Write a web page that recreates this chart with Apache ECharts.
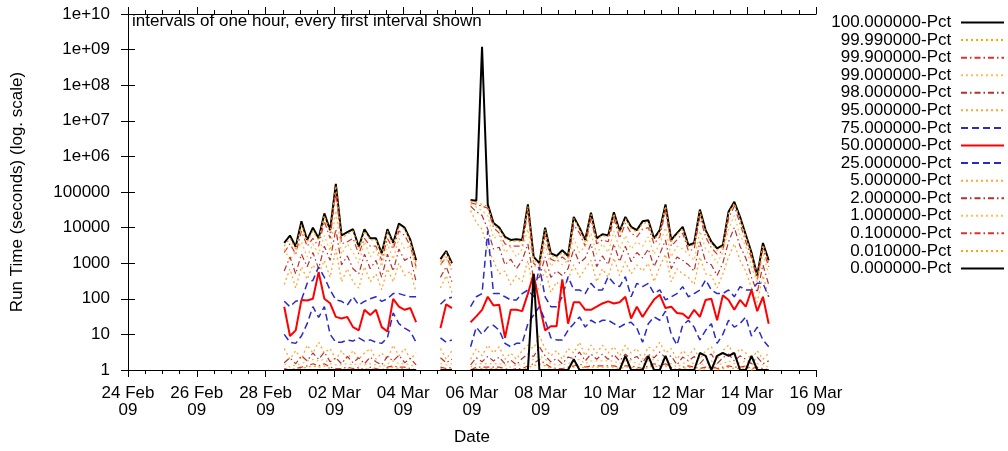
<!DOCTYPE html>
<html>
<head>
<meta charset="utf-8">
<script src="https://cdn.jsdelivr.net/npm/echarts@6/dist/echarts.min.js"></script>
<style>
html, body { margin: 0; padding: 0; background: #fff; }
#main { width: 1008px; height: 451px; }
</style>
</head>
<body>
<div id="main"></div>
<script>
// x = hours since 24 Feb 2009 00:00, one sample every 4 hours, three runs with gaps between
var step = 4;
var segStart = [109, 218, 239];
var segCount = [24, 3, 53];

var xTickLabels = ['24 Feb\n09', '26 Feb\n09', '28 Feb\n09', '02 Mar\n09', '04 Mar\n09', '06 Mar\n09',
  '08 Mar\n09', '10 Mar\n09', '12 Mar\n09', '14 Mar\n09', '16 Mar\n09'];
var yTickLabels = ['1', '10', '100', '1000', '10000', '100000', '1e+06', '1e+07', '1e+08', '1e+09', '1e+10'];

// run time per percentile (seconds); 24 + 3 + 53 values
var p100 = [3700, 6000, 2900, 15000, 4500, 10000, 5000, 25000, 8500, 170000, 6000, 7500, 9000, 2900, 9000, 5000, 5000, 1900, 9000, 3700, 13000, 10000, 4500, 1200,
  1300, 2200, 1000,
  60000, 57000, 1.2e9, 45000, 13500, 10000, 5500, 4500, 4700, 4500, 45000, 1500, 1000, 10000, 1900, 1600, 2300, 1600, 20000, 10000, 4500, 26000, 5000, 6500, 6000, 27000, 8000, 20000,
  10500, 8500, 15000, 16000, 5000, 8500, 45000, 4500, 7000, 10500, 3200, 3700, 32000, 8500, 4000, 2600, 3200, 28000, 53000, 20000, 6300, 2000, 450, 3700, 1200];
var p9999 = [3000, 5000, 2500, 12000, 4000, 8000, 4500, 22000, 7000, 150000, 5000, 6500, 8000, 2500, 8000, 4500, 4500, 1700, 8000, 3200, 11000, 9000, 4000, 1000,
  1100, 2000, 900,
  55000, 50000, 45000, 40000, 12000, 9000, 5000, 4000, 4200, 4000, 40000, 1300, 900, 9000, 1700, 1400, 2000, 1400, 18000, 9000, 4000, 24000, 4500, 6000, 5500, 25000, 7000, 18000,
  9500, 7500, 13000, 14000, 4500, 7500, 40000, 4000, 6300, 9500, 2900, 3300, 29000, 7500, 3600, 2300, 2900, 25000, 48000, 18000, 5600, 1800, 400, 3300, 1000];
var p999 = [2000, 3500, 1800, 8000, 3000, 5000, 3000, 15000, 5000, 100000, 3500, 4000, 5000, 1800, 5000, 3000, 3000, 1200, 5000, 2500, 8000, 6000, 3000, 800,
  900, 1500, 700,
  50000, 45000, 40000, 35000, 10000, 7000, 3500, 3000, 3000, 3000, 30000, 1000, 700, 6000, 1300, 1100, 1500, 1100, 12000, 7000, 3000, 18000, 3500, 4500, 4000, 18000, 5000, 13000,
  7000, 5500, 9000, 10000, 3500, 5500, 30000, 3000, 4500, 7000, 2200, 2500, 20000, 5500, 2700, 1800, 2200, 18000, 40000, 13000, 4000, 1400, 350, 2500, 800];
var p99 = [2500, 1200, 2200, 4000, 1500, 3500, 1800, 6000, 2200, 30000, 1800, 3500, 2000, 1000, 4000, 1500, 2500, 800, 3500, 1300, 5000, 2500, 3000, 700,
  900, 1400, 600,
  45000, 38000, 30000, 22000, 5000, 6000, 2000, 2800, 1500, 2500, 9000, 900, 600, 3500, 800, 1300, 900, 1200, 5000, 2000, 3000, 7000, 1800, 3500, 2000, 8000, 2500, 6000,
  2500, 4000, 3000, 5500, 1800, 3500, 10000, 1500, 3000, 2500, 1800, 1200, 8000, 2500, 1800, 1000, 2000, 9000, 22000, 6000, 3000, 800, 300, 1800, 500];
var p98 = [600, 1500, 500, 1800, 800, 2000, 700, 3000, 1200, 9000, 900, 1600, 700, 500, 1800, 700, 1200, 400, 1800, 600, 2500, 1200, 1500, 300,
  400, 800, 300,
  40000, 28000, 22000, 9000, 2500, 2800, 900, 1300, 700, 1200, 3500, 350, 400, 1500, 400, 600, 450, 700, 2500, 1000, 1400, 3500, 800, 1600, 900, 3500, 1100, 3000,
  1100, 2000, 1400, 2500, 800, 1800, 4500, 700, 1500, 1200, 900, 600, 4000, 1100, 900, 450, 1000, 4000, 10000, 3000, 1400, 400, 150, 900, 250];
var p95 = [250, 700, 200, 800, 350, 900, 500, 1200, 400, 2500, 300, 700, 300, 200, 800, 300, 500, 180, 700, 300, 1000, 450, 600, 150,
  200, 450, 150,
  30000, 14000, 9000, 2500, 1200, 500, 600, 250, 450, 300, 1200, 150, 200, 700, 150, 300, 180, 350, 900, 400, 700, 1200, 300, 700, 400, 1400, 450, 1100,
  500, 900, 600, 1000, 300, 800, 1800, 300, 700, 500, 400, 250, 1500, 500, 450, 200, 500, 1500, 3500, 1200, 600, 200, 80, 450, 120];
var p75 = [85, 60, 85, 93, 272, 330, 780, 400, 177, 93, 85, 67, 114, 67, 85, 100, 114, 85, 100, 140, 140, 125, 114, 114,
  70, 100, 110,
  60, 114, 140, 8000, 140, 140, 114, 93, 93, 140, 177, 114, 800, 114, 60, 60, 114, 420, 177, 177, 140, 272, 177, 177, 420, 272, 220, 420,
  114, 272, 220, 272, 140, 177, 93, 114, 140, 220, 114, 140, 177, 340, 177, 140, 140, 177, 114, 220, 177, 177, 272, 272, 114];
var p50 = [60, 9, 13, 93, 90, 100, 560, 100, 75, 31, 28, 31, 16, 13, 49, 35, 49, 16, 12, 100, 60, 49, 55, 22,
  15, 70, 55,
  22, 32, 49, 114, 65, 68, 8, 49, 49, 45, 140, 500, 70, 13, 17, 17, 350, 20, 80, 80, 49, 49, 60, 74, 85, 74, 80, 114,
  28, 60, 31, 55, 95, 130, 55, 60, 40, 38, 28, 49, 31, 93, 100, 25, 125, 93, 49, 93, 60, 177, 45, 114, 20];
var p25 = [10, 6, 5.6, 9, 20, 60, 30, 60, 10, 6, 6, 7, 6.5, 8, 6.5, 7, 6, 5.6, 8, 40, 20, 15, 12, 6,
  8, 6, 7,
  4.5, 16, 10, 16, 18, 13, 5.6, 4.5, 5.6, 5.6, 20, 35, 60, 25, 8, 7, 7, 13, 20, 31, 16, 25, 20, 25, 25, 20, 16, 20,
  22, 15, 6, 20, 31, 25, 45, 10, 5, 18, 25, 16, 7, 13, 20, 5.6, 10, 25, 16, 20, 31, 9, 16, 7, 4.5];
var p5 = [4, 2, 3.5, 2, 5, 3, 6, 3, 4, 2, 3.5, 2, 3.5, 2, 3, 4, 2, 3, 2, 5, 2.5, 4, 2, 3,
  4, 2, 3.5,
  2, 4, 2.5, 5, 3, 4.5, 2, 3, 2, 3.5, 5, 4, 9, 4, 2.5, 3.5, 2, 4, 3, 6, 2.5, 5, 3, 5, 3, 4.5, 2.5, 5,
  3, 4, 2, 4.5, 3.5, 6, 3, 4, 2, 3.5, 2.5, 4, 2, 3.5, 4.5, 2, 3.5, 5, 2.5, 4, 3, 2, 3.5, 2, 3];
var p2 = [1.6, 2.2, 1.5, 2.5, 1.8, 3, 2, 3.2, 1.7, 2.2, 1.5, 2.4, 1.6, 2.2, 1.5, 2.3, 1.7, 1.4, 2.4, 1.8, 2.6, 1.6, 2.1, 1.4,
  2.2, 1.6, 2,
  1.4, 2.2, 1.7, 2.4, 1.8, 2.3, 1.5, 1.9, 1.4, 2.1, 2.8, 2.4, 4.5, 2.5, 1.7, 2.1, 1.5, 2.3, 2.1, 3.2, 1.8, 2.8, 2, 2.8, 2, 2.7, 1.8, 2.8,
  2, 2.4, 1.6, 2.8, 2.2, 3.2, 2.2, 2.5, 1.4, 2.3, 1.8, 2.4, 1.5, 2.3, 2.8, 1.5, 2.2, 2.8, 1.8, 2.5, 2, 1.5, 2.3, 1.5, 1.8];
var p1 = [1.5, 1.2, 1.4, 1.5, 1.8, 2, 1.8, 2, 1.5, 1.4, 1.4, 1.5, 1.4, 1.5, 1.4, 1.5, 1.4, 1.2, 1.5, 1.8, 1.5, 1.5, 1.4, 1.2,
  1.5, 1.4, 1.5,
  1.2, 1.5, 1.5, 1.5, 1.5, 1.5, 1.4, 1.2, 1.4, 1.4, 1.8, 2, 2.5, 2, 1.5, 1.4, 1.4, 1.5, 1.8, 2, 1.5, 1.8, 1.8, 1.8, 1.8, 1.8, 1.5, 1.8,
  1.8, 1.5, 1.4, 1.8, 2, 1.8, 2, 1.5, 1.2, 1.5, 1.8, 1.5, 1.4, 1.5, 1.8, 1.4, 1.5, 1.8, 1.5, 1.6, 1.8, 1.4, 1.5, 1.4, 1.2];
var p01 = [1.1, 1, 1.1, 1.2, 1.3, 1.5, 1.3, 1.5, 1.2, 1.1, 1.1, 1.2, 1.1, 1.2, 1, 1.2, 1.1, 1, 1.2, 1.3, 1.2, 1.2, 1.1, 1,
  1.2, 1.1, 1.2,
  1, 1.2, 1.2, 1.2, 1.2, 1.2, 1.1, 1, 1.1, 1.1, 1.3, 1.5, 2, 1.5, 1.2, 1.1, 1.1, 1.2, 1.3, 1.5, 1.2, 1.3, 1.3, 1.3, 1.3, 1.3, 1.2, 1.3,
  1.3, 1.2, 1.1, 1.3, 1.5, 1.3, 1.5, 1.2, 1, 1.2, 1.3, 1.2, 1.1, 1.2, 1.3, 1.1, 1.2, 1.3, 1.2, 1.2, 1.3, 1.1, 1.2, 1.1, 1];
var p001 = [1, 1, 1, 1.1, 1.2, 1.3, 1.2, 1.3, 1.1, 1, 1, 1.1, 1, 1.1, 1, 1.1, 1, 1, 1.1, 1.2, 1.1, 1.1, 1, 1,
  1.1, 1, 1.1,
  1, 1.1, 1.1, 1.1, 1.1, 1.1, 1, 1, 1, 1, 1.2, 1.3, 1.5, 1.3, 1.1, 1, 1, 1.1, 1.2, 1.3, 1.1, 1.2, 1.2, 1.2, 1.2, 1.2, 1.1, 1.2,
  1.2, 1.1, 1, 1.2, 1.3, 1.2, 1.3, 1.1, 1, 1.1, 1.2, 1.1, 1, 1.1, 1.2, 1, 1.1, 1.2, 1.1, 1.1, 1.2, 1, 1.1, 1, 1];
var p0 = [1, 1, 1, 1, 1, 1, 1, 1, 1, 1, 1, 1, 1, 1, 1, 1, 1, 1, 1, 1, 1, 1, 1, 1,
  1, 1, 1,
  1, 1, 1, 1, 1, 1, 1, 1, 1, 1, 1, 500, 1, 1, 1, 1, 1, 1, 2, 1, 1, 1, 1, 1, 1, 1, 1, 2.5,
  1, 1, 1, 2.5, 1, 1, 2.5, 1, 1, 1, 1, 1, 3, 2.5, 1, 2.5, 3, 2.5, 3, 1, 1, 2.5, 1, 1, 1];

function build(vals) {
  var out = [], k = 0;
  for (var s = 0; s < segStart.length; s++) {
    if (s > 0) out.push([segStart[s] - 2, '-']);
    for (var i = 0; i < segCount[s]; i++) {
      out.push([segStart[s] + i * step, vals[k++]]);
    }
  }
  return out;
}

var dotted = [2, 3];
var dashDot = [6, 3, 1.5, 3];
var dashed = [7, 4];

var series = [
  { name: '100.000000-Pct', values: p100, color: '#000000', type: 'solid', width: 2 },
  { name: '99.990000-Pct', values: p9999, color: '#ffa500', type: dotted, width: 1.3 },
  { name: '99.900000-Pct', values: p999, color: '#e0302c', type: dashDot, width: 1.2 },
  { name: '99.000000-Pct', values: p99, color: '#ffbf50', type: dotted, width: 1.3 },
  { name: '98.000000-Pct', values: p98, color: '#b8302c', type: dashDot, width: 1.2 },
  { name: '95.000000-Pct', values: p95, color: '#ffa530', type: dotted, width: 1.3 },
  { name: '75.000000-Pct', values: p75, color: '#2a2ac8', type: dashed, width: 1.5 },
  { name: '50.000000-Pct', values: p50, color: '#ff0000', type: 'solid', width: 2 },
  { name: '25.000000-Pct', values: p25, color: '#2a2ac8', type: dashed, width: 1.5 },
  { name: '5.000000-Pct', values: p5, color: '#ffa530', type: dotted, width: 1.3 },
  { name: '2.000000-Pct', values: p2, color: '#b8302c', type: dashDot, width: 1.2 },
  { name: '1.000000-Pct', values: p1, color: '#ffbf50', type: dotted, width: 1.3 },
  { name: '0.100000-Pct', values: p01, color: '#e0302c', type: dashDot, width: 1.2 },
  { name: '0.010000-Pct', values: p001, color: '#ffa500', type: dotted, width: 1.3 },
  { name: '0.000000-Pct', values: p0, color: '#000000', type: 'solid', width: 2 }
];

var font = 'Liberation Sans, Arial, sans-serif';
var chart = echarts.init(document.getElementById('main'));

var xCommon = {
  type: 'value', min: 0, max: 480, interval: 48,
  axisLine: { show: true, onZero: false, lineStyle: { color: '#000', width: 1 } },
  axisTick: { show: true, inside: false, length: 7, lineStyle: { color: '#000' } },
  minorTick: { show: true, splitNumber: 4, length: 4, lineStyle: { color: '#000' } },
  splitLine: { show: false }
};
var yCommon = {
  type: 'log', logBase: 10, min: 1, max: 1e10, interval: 1,
  axisLine: { show: true, lineStyle: { color: '#000', width: 1 } },
  axisTick: { show: true, inside: false, length: 7, lineStyle: { color: '#000' } },
  splitLine: { show: false }
};

var option = {
  animation: false,
  backgroundColor: '#fff',
  textStyle: { fontFamily: font },
  title: {
    text: 'intervals of one hour, every first interval shown',
    left: 132, top: 13, padding: 0,
    textStyle: { fontFamily: font, fontSize: 17, fontWeight: 'normal', color: '#000' }
  },
  legend: {
    orient: 'vertical', align: 'right', right: 3, top: 14, padding: 0,
    itemWidth: 43, itemHeight: 10, itemGap: 0.57,
    formatter: function (n) { return n + ' '; },
    textStyle: { fontFamily: font, fontSize: 17, lineHeight: 17, color: '#000' },
    data: series.map(function (s) { return s.name; })
  },
  grid: { left: 128, right: 192, top: 14, bottom: 81, containLabel: false, outerBoundsMode: 'none' },
  xAxis: [
    Object.assign({}, xCommon, {
      position: 'bottom',
      name: 'Date', nameLocation: 'middle', nameGap: 59,
      nameTextStyle: { fontFamily: font, fontSize: 17, color: '#000' },
      axisLabel: {
        margin: 15, fontFamily: font, fontSize: 17, lineHeight: 17, color: '#000',
        formatter: function (v) { return xTickLabels[Math.round(v / 48)]; }
      }
    }),
    Object.assign({}, xCommon, { position: 'top', axisLabel: { show: false } })
  ],
  yAxis: [
    Object.assign({}, yCommon, {
      position: 'left',
      name: 'Run Time (seconds) (log. scale)', nameLocation: 'middle', nameGap: 102, nameRotate: 90,
      nameTextStyle: { fontFamily: font, fontSize: 17, color: '#000' },
      axisLabel: {
        margin: 18, fontFamily: font, fontSize: 17, color: '#000',
        formatter: function (v) { return yTickLabels[Math.round(Math.log10(v))]; }
      }
    }),
    Object.assign({}, yCommon, { position: 'right', axisLabel: { show: false } })
  ],
  series: series.map(function (s) {
    return {
      name: s.name, type: 'line', symbol: 'none', showSymbol: false,
      xAxisIndex: 0, yAxisIndex: 0, connectNulls: false,
      lineStyle: { color: s.color, width: s.width, type: s.type },
      // transparent item colour keeps the legend icon a plain line sample
      itemStyle: { color: 'rgba(0,0,0,0)', borderColor: 'rgba(0,0,0,0)', borderWidth: 0 },
      emphasis: { disabled: true },
      data: build(s.values)
    };
  })
};

chart.setOption(option);
</script>
</body>
</html>
